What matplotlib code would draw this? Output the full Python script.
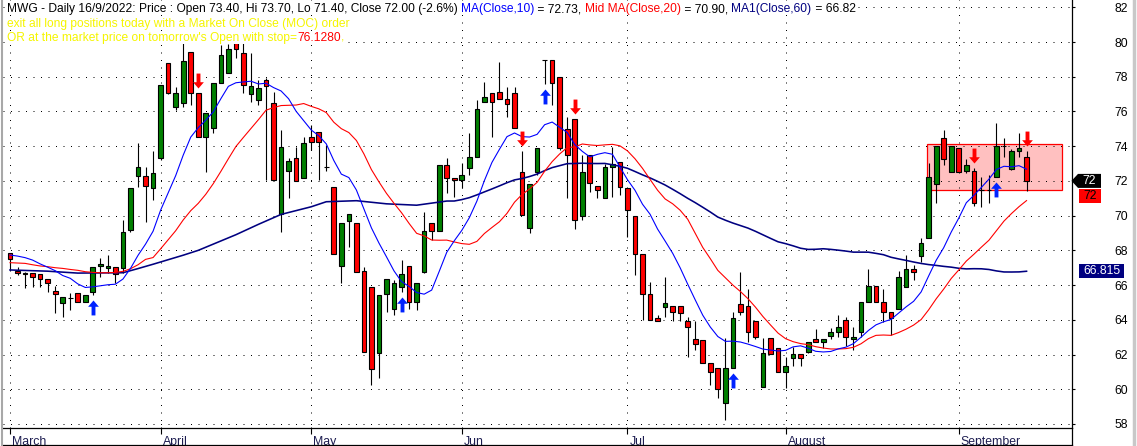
import numpy as np
import pandas as pd
import matplotlib
matplotlib.use("Agg")
import matplotlib.pyplot as plt
from matplotlib.path import Path
from matplotlib.markers import MarkerStyle
from matplotlib.patches import Rectangle, Polygon
from matplotlib.lines import Line2D
from matplotlib.font_manager import FontProperties
import matplotlib.transforms as mtrans

plt.rcParams['font.family'] = ['Liberation Sans', 'DejaVu Sans']

# ---------------- data ----------------
opens = [67.83, 66.83, 66.71, 66.67, 66.62, 66.33, 65.66, 64.95, 65.23, 65.52,
         65.00, 65.58, 67.10, 66.96, 67.06, 66.96, 69.17, 72.30, 72.30, 71.57,
         73.30, 78.77, 76.28, 76.47, 79.40, 77.04, 74.55, 75.03, 77.62, 78.23,
         79.92, 79.35, 77.00, 76.66, 77.80, 76.50, 70.07, 72.57, 73.30, 72.15,
         74.55, 74.80, 72.78, 71.67, 67.10, 69.69, 69.55, 66.81, 65.87, 62.07,
         65.46, 64.60, 65.87, 67.10, 65.04, 66.77, 69.60, 69.14, 72.90, 72.17,
         72.05, 72.77, 73.40, 76.53, 77.05, 77.14, 76.70, 77.05, 72.54, 69.27,
         72.54, 78.97, 78.97, 77.97, 75.00, 75.55, 70.00, 73.48, 71.71, 71.00,
         72.82, 73.07, 71.57, 69.98, 67.77, 65.46, 64.08, 64.72, 64.79, 64.79,
         63.95, 62.87, 62.83, 61.49, 61.20, 59.18, 61.20, 64.91, 64.79, 63.93,
         60.11, 62.97, 62.39, 60.97, 61.78, 62.01, 62.16, 62.89, 62.70, 63.09,
         63.28, 63.99, 62.87, 63.28, 65.00, 65.96, 65.00, 64.47, 64.60, 65.87,
         66.90, 67.69, 68.69, 71.80, 74.45, 72.49, 73.88, 72.57, 72.57, 71.48,
         71.50, 72.20, 74.03, 72.67, 73.72, 73.40]
highs = [67.83, 67.02, 66.75, 66.67, 66.62, 66.33, 65.94, 65.29, 65.56, 65.52,
         65.43, 67.02, 67.54, 67.73, 67.06, 69.75, 71.57, 74.16, 72.82, 73.74,
         77.52, 78.80, 77.40, 79.92, 79.44, 77.04, 75.89, 77.62, 79.83, 79.90,
         79.92, 79.92, 79.35, 77.80, 77.90, 77.10, 74.93, 73.30, 73.97, 74.55,
         75.22, 74.80, 74.07, 71.67, 69.59, 70.07, 69.55, 67.06, 65.87, 65.43,
         66.33, 66.29, 67.44, 67.10, 66.10, 70.23, 69.60, 72.92, 73.30, 72.17,
         73.02, 74.74, 76.66, 77.72, 77.05, 78.87, 77.43, 77.43, 73.73, 71.83,
         73.88, 78.97, 78.97, 77.97, 75.70, 75.55, 73.50, 73.48, 71.71, 73.00,
         73.97, 73.07, 71.57, 69.98, 67.77, 66.20, 64.27, 66.48, 64.79, 64.79,
         64.18, 63.95, 62.85, 61.49, 61.20, 62.93, 64.47, 66.73, 65.75, 63.93,
         62.93, 62.97, 62.39, 61.87, 62.45, 62.01, 62.70, 63.45, 62.89, 63.50,
         64.27, 64.18, 63.60, 65.00, 66.90, 65.96, 65.77, 64.47, 66.83, 67.73,
         67.15, 68.69, 73.01, 74.01, 74.93, 74.01, 73.88, 73.24, 72.72, 72.24,
         72.32, 75.36, 74.45, 73.84, 74.78, 73.70]
lows = [66.81, 66.58, 65.81, 65.87, 65.90, 65.58, 64.37, 64.14, 64.56, 65.00,
        65.00, 65.43, 66.48, 66.67, 66.10, 66.67, 69.07, 71.67, 69.65, 70.90,
        73.20, 77.00, 76.10, 76.28, 76.37, 74.55, 72.53, 74.78, 77.62, 78.23,
        79.06, 77.04, 76.56, 76.37, 72.05, 72.05, 69.07, 71.03, 72.01, 72.15,
        73.78, 72.05, 72.59, 67.77, 66.10, 68.17, 66.77, 62.16, 60.24, 60.62,
        64.47, 64.27, 65.60, 64.60, 64.56, 66.70, 68.60, 69.14, 71.33, 71.10,
        71.57, 72.34, 73.40, 76.53, 74.55, 76.70, 75.70, 75.03, 70.04, 69.02,
        72.34, 77.60, 76.38, 73.78, 71.00, 69.21, 69.75, 71.38, 71.00, 71.00,
        71.09, 71.19, 68.79, 66.58, 63.99, 63.99, 63.95, 64.18, 63.95, 63.95,
        61.87, 62.26, 61.49, 60.24, 59.47, 58.23, 61.20, 64.27, 62.74, 62.89,
        60.11, 62.03, 60.97, 60.05, 61.34, 61.34, 62.07, 62.70, 62.35, 62.89,
        62.99, 62.49, 62.26, 63.03, 65.00, 65.00, 63.89, 63.12, 64.60, 65.87,
        66.29, 67.31, 68.69, 70.75, 72.92, 72.49, 72.49, 72.44, 70.55, 70.48,
        70.75, 72.20, 73.36, 72.63, 73.40, 71.40]
closes = [67.48, 66.67, 66.62, 66.48, 66.33, 66.10, 65.46, 65.29, 65.25, 65.00,
          65.43, 67.02, 67.21, 67.10, 66.64, 69.07, 71.57, 72.82, 71.72, 72.44,
          77.52, 77.04, 77.08, 78.90, 77.04, 74.55, 75.89, 77.62, 79.25, 79.58,
          79.58, 77.52, 77.48, 77.33, 77.46, 72.05, 73.93, 73.14, 72.01, 74.16,
          74.26, 74.22, 72.78, 67.77, 69.59, 70.07, 66.77, 62.16, 61.14, 65.43,
          66.33, 66.10, 66.62, 65.00, 66.10, 69.11, 69.12, 72.92, 72.15, 72.05,
          72.34, 73.40, 76.13, 76.86, 76.53, 76.70, 76.41, 75.03, 70.04, 71.83,
          73.88, 78.95, 77.66, 73.88, 73.50, 69.75, 72.50, 71.86, 71.48, 72.80,
          72.95, 71.67, 70.32, 67.77, 65.46, 63.99, 63.95, 64.98, 64.47, 64.37,
          63.56, 62.60, 61.49, 60.97, 59.99, 61.20, 64.08, 64.47, 63.27, 62.99,
          62.06, 62.03, 60.97, 61.34, 62.01, 61.78, 62.70, 62.70, 62.89, 63.28,
          63.56, 62.99, 62.99, 65.00, 65.96, 65.00, 64.47, 64.08, 66.48, 66.90,
          66.77, 68.40, 72.20, 74.01, 73.24, 74.01, 72.49, 72.92, 70.71, 71.50,
          71.50, 74.01, 74.03, 73.72, 73.88, 72.00]

ma10_head = [67.73, 67.67, 67.58, 67.44, 67.22, 67.03, 66.83, 66.55, 66.39]
ma20_head = [67.29, 67.27, 67.25, 67.17, 67.10, 67.06, 67.00, 66.96, 66.90, 66.85,
             66.77, 66.73, 66.71, 66.71, 66.73, 66.79, 66.94, 67.17, 67.48]
ma60_head_idx = [0, 5, 9, 15, 17, 19, 23, 25, 30, 33, 36, 40, 42, 46, 50, 54, 58]
ma60_head_val = [66.87, 66.80, 66.69, 66.71, 66.95, 67.20, 67.72, 68.00, 68.90,
                 69.50, 70.07, 70.51, 70.80, 70.86, 70.68, 70.60, 70.84]

month_labels = ["March", "April", "May", "Jun", "Jul", "August", "September"]
month_start_idx = [0, 20, 40, 60, 82, 103, 126]

buy_idx = [11, 52, 71, 96, 131]
sell_idx = [25, 68, 75, 128, 135]

zone_start, zone_end = 122, 140
zone_low, zone_high = 71.5, 74.1

y_ticks = [58, 60, 62, 64, 66, 68, 70, 72, 74, 76, 78, 80, 82]

header_black = "MWG - Daily 16/9/2022: Price : Open 73.40, Hi 73.70, Lo 71.40, Close 72.00 (-2.6%) "
header_parts = [
    (header_black, "black"),
    ("MA(Close,10)", "#0000ff"),
    (" = 72.73, ", "black"),
    ("Mid MA(Close,20)", "#ff0000"),
    (" = 70.90, ", "black"),
    ("MA1(Close,60)", "#000080"),
    (" = 66.82", "black"),
]
line2_parts = [("exit all long positions today with a Market On Close (MOC) order", "#f5f500")]
line3_parts = [("OR at the market price on tomorrow's Open with stop=", "#f5f500"),
               ("76.1280", "#ff0000"), (",", "#f5f500")]

close_label = "72"
second_label = "72"
ma60_label = "66.815"
ma60_label_value = 66.815

# ---------------- figure ----------------
W, H = 1137, 446
fig = plt.figure(figsize=(W / 100, H / 100), dpi=100)
fig.patch.set_facecolor("white")

ax_left_px, ax_right_px, ax_bottom_px = 3.0, 1071.7, 428.3
ax = fig.add_axes([ax_left_px / W, (H - ax_bottom_px) / H,
                   (ax_right_px - ax_left_px) / W, ax_bottom_px / H])
ax.set_facecolor("white")

n = len(closes)
xs = np.arange(n)
O = np.array(opens); Hh = np.array(highs); L = np.array(lows); C = np.array(closes)

bar_px = 7.53
first_px = 10.0
ax.set_xlim((ax_left_px - first_px) / bar_px, (ax_right_px - first_px) / bar_px)
ax.set_ylim(57.75, 82.42)

# grid
ax.set_axisbelow(True)
grid_style = dict(color="black", linewidth=0.72, linestyle=(0, (1, 6.5)))
ax.set_yticks(y_ticks)
ax.set_xticks(month_start_idx)
ax.set_xticklabels(month_labels)
ax.grid(True, **grid_style)

# signal zone
zone = Rectangle((zone_start - 0.25, zone_low), (zone_end - 0.25) - (zone_start - 0.25),
                 zone_high - zone_low, facecolor="#ffc0c0", edgecolor="#ff0000",
                 linewidth=0.9, zorder=0.4)
ax.add_patch(zone)

# candles
up = C >= O
body_col = np.where(up, "#008000", "#ff0000")
ax.vlines(xs, L, Hh, color="black", linewidth=0.8, zorder=3)
ax.bar(xs, np.abs(C - O), bottom=np.minimum(O, C), width=0.62, color=body_col,
       edgecolor="black", linewidth=0.8, zorder=4)

# moving averages
cs = pd.Series(C)
ma10 = cs.rolling(10).mean().to_numpy()
ma10[:len(ma10_head)] = ma10_head
ma20 = cs.rolling(20).mean().to_numpy()
ma20[:len(ma20_head)] = ma20_head
ma60_full = cs.rolling(60).mean().to_numpy()
ma60_x = list(ma60_head_idx) + list(range(59, n))
ma60_y = list(ma60_head_val) + list(ma60_full[59:])

ax.plot(ma60_x, ma60_y, color="#000080", linewidth=1.15, zorder=5)
ax.plot(xs, ma20, color="#ff0000", linewidth=0.8, zorder=5)
ax.plot(xs, ma10, color="#0000ff", linewidth=0.8, zorder=5)

# arrows
up_path = Path([(0, 0), (0.36, -0.42), (0.13, -0.42), (0.13, -1), (-0.13, -1),
                (-0.13, -0.42), (-0.36, -0.42), (0, 0)], closed=True)
dn_path = Path([(x, -y) for x, y in up_path.vertices], closed=True)
off_dn = ax.transData + mtrans.ScaledTranslation(0, -0.05, fig.dpi_scale_trans)
off_up = ax.transData + mtrans.ScaledTranslation(0, 0.05, fig.dpi_scale_trans)
ax.plot(xs[buy_idx], L[buy_idx], linestyle="none", marker=MarkerStyle(up_path),
        markersize=21.5, color="#0022ff", markeredgewidth=0, transform=off_dn, zorder=6,
        clip_on=False)
ax.plot(xs[sell_idx], Hh[sell_idx], linestyle="none", marker=MarkerStyle(dn_path),
        markersize=21.5, color="#ff0000", markeredgewidth=0, transform=off_up, zorder=6,
        clip_on=False)

# axes styling
for s in ["top", "left"]:
    ax.spines[s].set_visible(False)
ax.spines["bottom"].set_linewidth(0.9)
ax.spines["right"].set_linewidth(0.9)
ax.yaxis.tick_right()
ax.tick_params(axis="y", direction="out", length=2.5, width=0.8, pad=28,
               labelsize=8.7, colors="black", left=False)
ax.tick_params(axis="x", direction="out", length=4, width=0.8, pad=1.5,
               labelsize=8.8, labelcolor="#1c1c50")
ax.set_yticklabels([str(v) for v in y_ticks])
shift = mtrans.ScaledTranslation(2 / 100, 0, fig.dpi_scale_trans)
for lbl in ax.get_xticklabels():
    lbl.set_horizontalalignment("left")
    lbl.set_transform(lbl.get_transform() + shift)

# frame lines outside axes (display pixels, origin bottom-left)
fig.add_artist(Line2D([ax_left_px, ax_right_px], [1.2, 1.2], transform=None,
                      color="black", linewidth=0.9))
fig.add_artist(Line2D([ax_right_px, ax_right_px], [0, H - ax_bottom_px], transform=None,
                      color="black", linewidth=0.9))
fig.add_artist(Line2D([1.5, 1.5], [0, H], transform=None, color="#a8a8a8", linewidth=1.5))
fig.add_artist(Line2D([1133.5, 1133.5], [0, H], transform=None, color="#c8c8c8", linewidth=2.5))

# right-side value labels
fig.canvas.draw()
def ypx(v):
    return ax.transData.transform((0, v))[1]

yc = ypx(C[-1])
fig.add_artist(Polygon([(1071.5, yc), (1078, yc + 7), (1101, yc + 7), (1101, yc - 7), (1078, yc - 7)],
                       closed=True, transform=None, facecolor="black", edgecolor="none"))
fig.text(1089.5, yc - 0.5, close_label, transform=None, color="white", fontsize=8.7,
         ha="center", va="center")
y2 = yc - 15
fig.add_artist(Rectangle((1079, y2 - 7), 22, 14, transform=None, facecolor="#ff0000",
                         edgecolor="none"))
fig.text(1090, y2 - 0.5, second_label, transform=None, color="black", fontsize=8.7,
         ha="center", va="center")
y3 = ypx(ma60_label_value)
fig.add_artist(Rectangle((1079, y3 - 7), 45, 14, transform=None, facecolor="#000080",
                         edgecolor="none"))
fig.text(1101.5, y3 - 0.5, ma60_label, transform=None, color="white", fontsize=8.7,
         ha="center", va="center")

# header text (multi-coloured lines)
renderer = fig.canvas.get_renderer()
def adv(s, size):
    fp = FontProperties(family=["Liberation Sans"], size=size)
    w1 = renderer.get_text_width_height_descent(s + "|", fp, ismath=False)[0]
    w2 = renderer.get_text_width_height_descent("|", fp, ismath=False)[0]
    return w1 - w2

full1 = "".join(p for p, _ in header_parts)
size = 8.0 * (851.0 / adv(full1, 8.0))

def draw_line(parts, x0, baseline_from_top):
    x = x0
    for txt, col in parts:
        fig.text(x, H - baseline_from_top, txt, transform=None, color=col, fontsize=size,
                 ha="left", va="baseline", zorder=10,
                 bbox=dict(facecolor="white", edgecolor="none", pad=0))
        x += adv(txt, size)

draw_line(header_parts, 7, 12.3)
draw_line(line2_parts, 7, 26.8)
draw_line(line3_parts, 7, 40.7)

fig.savefig("out.png", dpi=100, facecolor="white")
